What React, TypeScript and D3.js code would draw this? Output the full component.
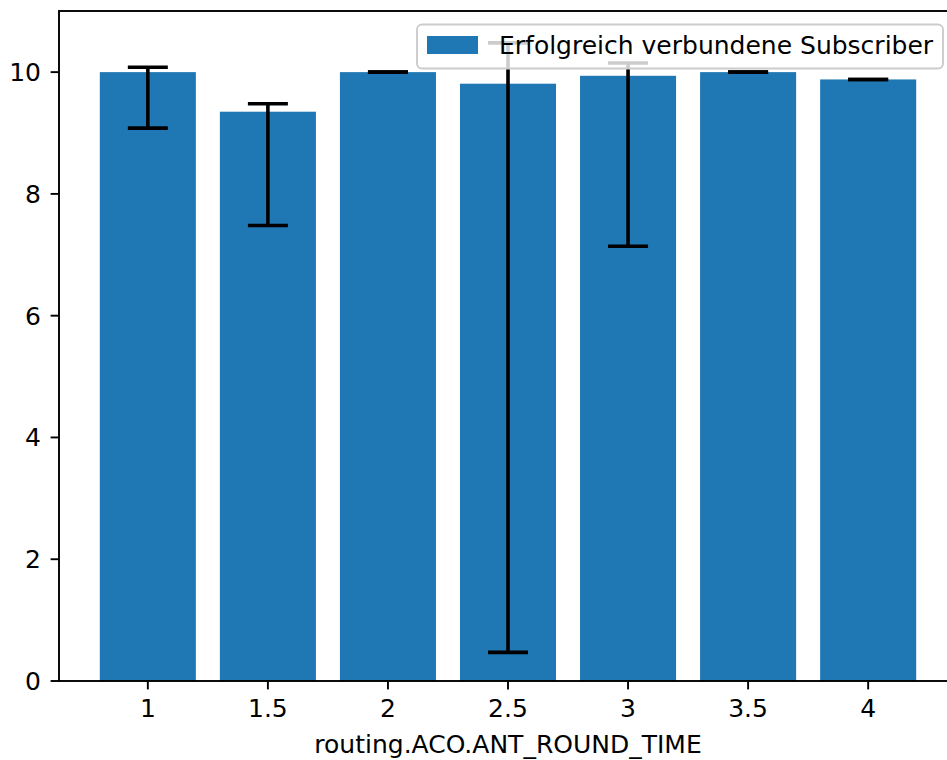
import { useMemo } from 'react'
import * as d3 from 'd3'

const categories = [1, 1.5, 2, 2.5, 3, 3.5, 4]
const means = [10.0, 9.35, 10.0, 9.81, 9.94, 10.0, 9.88]
const errLow = [9.08, 7.48, 10.0, 0.47, 7.14, 10.0, 9.88]
const errHigh = [10.08, 9.48, 10.0, 10.48, 10.15, 10.0, 9.88]
const xTickLabels = ['1', '1.5', '2', '2.5', '3', '3.5', '4']
const yTicks = [0, 2, 4, 6, 8, 10]
const seriesName = 'Erfolgreich verbundene Subscriber'
const xLabel = 'routing.ACO.ANT_ROUND_TIME'

const W = 947
const H = 760
const margin = { left: 59, top: 11, right: 957, bottom: 681 }
const barWidth = 0.4
const font = 'DejaVu Sans, sans-serif'
const fs = 25
const blue = '#1f77b4'

export default function App() {
    const xScale = useMemo(
        () => d3.scaleLinear().domain([0.63, 4.37]).range([margin.left, margin.right]),
        []
    )
    const yScale = useMemo(
        () => d3.scaleLinear().domain([0, 11.004]).range([margin.bottom, margin.top]),
        []
    )
    const bw = xScale(barWidth) - xScale(0)

    return (
        <svg
            width={W}
            height={H}
            style={{ position: 'absolute', left: 0, top: 0, background: '#fff' }}
            fontFamily={font}
        >
            {/* bars */}
            {categories.map((c, i) => (
                <rect
                    key={c}
                    x={xScale(c) - bw / 2}
                    y={yScale(means[i])}
                    width={bw}
                    height={yScale(0) - yScale(means[i])}
                    fill={blue}
                />
            ))}
            {/* error bars */}
            {categories.map((c, i) => (
                <g key={'e' + c} stroke="#000" strokeWidth={3.6}>
                    <line x1={xScale(c)} x2={xScale(c)} y1={yScale(errLow[i])} y2={yScale(errHigh[i])} />
                    <line x1={xScale(c) - 20} x2={xScale(c) + 20} y1={yScale(errLow[i])} y2={yScale(errLow[i])} />
                    <line x1={xScale(c) - 20} x2={xScale(c) + 20} y1={yScale(errHigh[i])} y2={yScale(errHigh[i])} />
                </g>
            ))}
            {/* spines */}
            <rect
                x={margin.left}
                y={margin.top}
                width={margin.right - margin.left}
                height={margin.bottom - margin.top}
                fill="none"
                stroke="#000"
                strokeWidth={1.9}
            />
            {/* y axis */}
            {yTicks.map((t) => (
                <g key={'y' + t}>
                    <line x1={margin.left - 8.4} x2={margin.left} y1={yScale(t)} y2={yScale(t)} stroke="#000" strokeWidth={1.9} />
                    <text x={margin.left - 18} y={yScale(t) + 9} fontSize={fs} textAnchor="end" fill="#000">
                        {t}
                    </text>
                </g>
            ))}
            {/* x axis */}
            {categories.map((c, i) => (
                <g key={'x' + c}>
                    <line x1={xScale(c)} x2={xScale(c)} y1={margin.bottom} y2={margin.bottom + 8.4} stroke="#000" strokeWidth={1.9} />
                    <text x={xScale(c)} y={716.5} fontSize={fs} textAnchor="middle" fill="#000">
                        {xTickLabels[i]}
                    </text>
                </g>
            ))}
            <text x={(margin.left + margin.right) / 2} y={752.5} fontSize={fs} textAnchor="middle" fill="#000">
                {xLabel}
            </text>
            {/* legend */}
            <rect x={417} y={24.5} width={526} height={44} rx={5} fill="rgba(255,255,255,0.8)" stroke="#cccccc" strokeWidth={1.9} />
            <rect x={427} y={36} width={51} height={18} fill={blue} />
            <text x={499} y={54} fontSize={fs} fill="#000">
                {seriesName}
            </text>
        </svg>
    )
}
